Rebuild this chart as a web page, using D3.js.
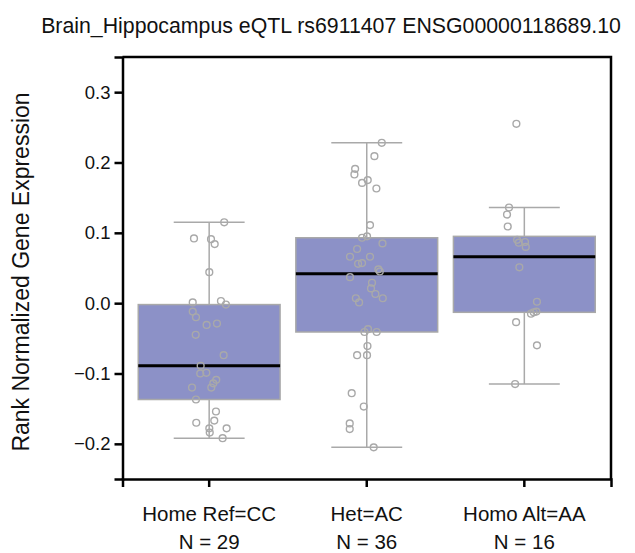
<!DOCTYPE html>
<html>
<head>
<meta charset="utf-8">
<script src="https://cdn.jsdelivr.net/npm/d3@7"></script>
<style>
    body { margin: 0; background: #fff; }
    svg { display: block; font-family: "Liberation Sans", Arial, sans-serif; }
</style>
</head>
<body>
<svg id="chart" width="635" height="553"></svg>
<script>
var title = 'Brain_Hippocampus eQTL rs6911407 ENSG00000118689.10';
var yLabel = 'Rank Normalized Gene Expression';
var genotypes = ['Home Ref=CC', 'Het=AC', 'Homo Alt=AA'];
var counts = ['N = 29', 'N = 36', 'N = 16'];
var yTicks = [-0.2, -0.1, 0.0, 0.1, 0.2, 0.3];

// box stats: [low whisker, q1, median, q3, high whisker]
var statsCC = [-0.192, -0.137, -0.089, -0.002, 0.115];
var statsAC = [-0.205, -0.041, 0.042, 0.093, 0.228];
var statsAA = [-0.115, -0.013, 0.066, 0.095, 0.136];

// sample values
var valuesCC = [0.115, 0.092, 0.091, 0.084, 0.044, 0.001, 0.003, -0.002, -0.012, -0.020,
    -0.031, -0.029, -0.045, -0.074, -0.089, -0.100, -0.099, -0.109, -0.114, -0.120,
    -0.120, -0.137, -0.154, -0.170, -0.167, -0.178, -0.178, -0.184, -0.192];
var valuesAC = [0.228, 0.209, 0.191, 0.183, 0.175, 0.171, 0.163, 0.111, 0.093, 0.095,
    0.085, 0.077, 0.066, 0.066, 0.056, 0.057, 0.048, 0.045, 0.037, 0.029,
    0.021, 0.013, 0.007, 0.001, 0.007, -0.041, -0.037, -0.041, -0.061, -0.074,
    -0.074, -0.128, -0.147, -0.171, -0.179, -0.205];
var valuesAA = [0.255, 0.136, 0.126, 0.109, 0.086, 0.087, 0.080, 0.090, 0.051, 0.002,
    -0.015, -0.013, -0.012, -0.027, -0.060, -0.115];

// horizontal jitter of each point, as a share of the box width
var jitterCC = [.106, -.107, .013, .039, .001, -.116, .083, .118, -.116, -.093,
    -.018, .055, -.095, .102, -.060, -.063, -.020, .050, .029, .015,
    -.121, -.093, .048, -.091, .036, .001, .123, .004, .095];
var jitterAC = [.106, .054, -.082, -.087, .007, -.033, .068, .023, -.033, .002,
    .111, -.068, -.118, .023, -.061, -.033, .082, .092, -.118, .037,
    .030, .061, -.077, -.054, .113, -.016, .009, .070, .005, -.068,
    .002, -.106, -.021, -.120, -.120, .049];
var jitterAA = [-.056, -.108, -.122, -.117, -.039, .005, .010, -.051, -.035, .089,
    .047, .066, .085, -.058, .089, -.065];

var groups = [
    { name: genotypes[0], n: counts[0], stats: statsCC, values: valuesCC, jitter: jitterCC },
    { name: genotypes[1], n: counts[1], stats: statsAC, values: valuesAC, jitter: jitterAC },
    { name: genotypes[2], n: counts[2], stats: statsAA, values: valuesAA, jitter: jitterAA }
];

var margin = { left: 122.5, right: 24, top: 57, bottom: 74 };
var W = 635, H = 553;

var svg = d3.select('#chart');

var x = d3.scaleBand()
    .domain(genotypes)
    .range([margin.left, W - margin.right])
    .paddingInner(0.1)
    .paddingOuter(0.1);

var y = d3.scaleLinear()
    .domain([-0.25, 0.35])
    .range([H - margin.bottom, margin.top]);

var boxFill = '#8c91c7',
    grey = '#a9a9a9';

var g = svg.append('g');

groups.forEach(function (d) {
    var x0 = x(d.name),
        bw = x.bandwidth(),
        cx = x0 + bw / 2,
        s = d.stats;

    // whisker stem
    g.append('line')
        .attr('x1', cx).attr('x2', cx)
        .attr('y1', y(s[0])).attr('y2', y(s[4]))
        .attr('stroke', grey).attr('stroke-width', 1.5);

    [s[0], s[4]].forEach(function (v) {
        g.append('line')
            .attr('x1', cx - bw / 4).attr('x2', cx + bw / 4)
            .attr('y1', y(v)).attr('y2', y(v))
            .attr('stroke', grey).attr('stroke-width', 1.5);
    });

    g.append('rect')
        .attr('x', x0)
        .attr('y', y(s[3]))
        .attr('width', bw)
        .attr('height', y(s[1]) - y(s[3]))
        .attr('fill', boxFill)
        .attr('stroke', grey)
        .attr('stroke-width', 1.5);

    g.append('line')
        .attr('x1', x0).attr('x2', x0 + bw)
        .attr('y1', y(s[2])).attr('y2', y(s[2]))
        .attr('stroke', '#000').attr('stroke-width', 3);

    g.selectAll(null)
        .data(d.values)
        .enter()
        .append('circle')
        .attr('cx', (v, i) => cx + d.jitter[i] * bw)
        .attr('cy', v => y(v))
        .attr('r', 3.4)
        .attr('fill', 'none')
        .attr('stroke', grey)
        .attr('stroke-width', 1.4);
});

// frame: top and right
svg.append('path')
    .attr('d', 'M' + margin.left + ',' + margin.top + 'H' + (W - margin.right) + 'V' + (H - margin.bottom))
    .attr('fill', 'none')
    .attr('stroke', '#000')
    .attr('stroke-width', 2.5);

var yAxis = svg.append('g')
    .attr('transform', 'translate(' + margin.left + ',0)')
    .call(d3.axisLeft(y).tickValues(yTicks).tickFormat(d3.format('.1f')).tickSize(8).tickSizeOuter(8).tickPadding(4));

var xAxis = svg.append('g')
    .attr('transform', 'translate(0,' + (H - margin.bottom) + ')')
    .call(d3.axisBottom(x).tickSize(8).tickSizeOuter(8).tickFormat(''));

[yAxis, xAxis].forEach(function (ax) {
    ax.select('.domain').attr('stroke-width', 2.5);
    ax.selectAll('.tick line').attr('stroke-width', 2.5);
});

yAxis.selectAll('.tick text')
    .attr('font-size', 18.5)
    .attr('font-family', '"Liberation Sans", Arial, sans-serif')
    .attr('fill', '#111');

// category labels
groups.forEach(function (d) {
    var cx = x(d.name) + x.bandwidth() / 2;
    svg.append('text')
        .attr('x', cx).attr('y', 521)
        .attr('text-anchor', 'middle')
        .attr('font-size', 20.5)
        .attr('fill', '#111')
        .text(d.name);
    svg.append('text')
        .attr('x', cx).attr('y', 549)
        .attr('text-anchor', 'middle')
        .attr('font-size', 20.5)
        .attr('fill', '#111')
        .text(d.n);
});

svg.append('text')
    .attr('x', 331).attr('y', 33)
    .attr('text-anchor', 'middle')
    .attr('font-size', 21.3)
    .attr('fill', '#111')
    .text(title);

svg.append('text')
    .attr('transform', 'translate(29,' + ((margin.top + H - margin.bottom) / 2 + 4) + ') rotate(-90)')
    .attr('text-anchor', 'middle')
    .attr('font-size', 23)
    .attr('fill', '#111')
    .text(yLabel);
</script>
</body>
</html>
